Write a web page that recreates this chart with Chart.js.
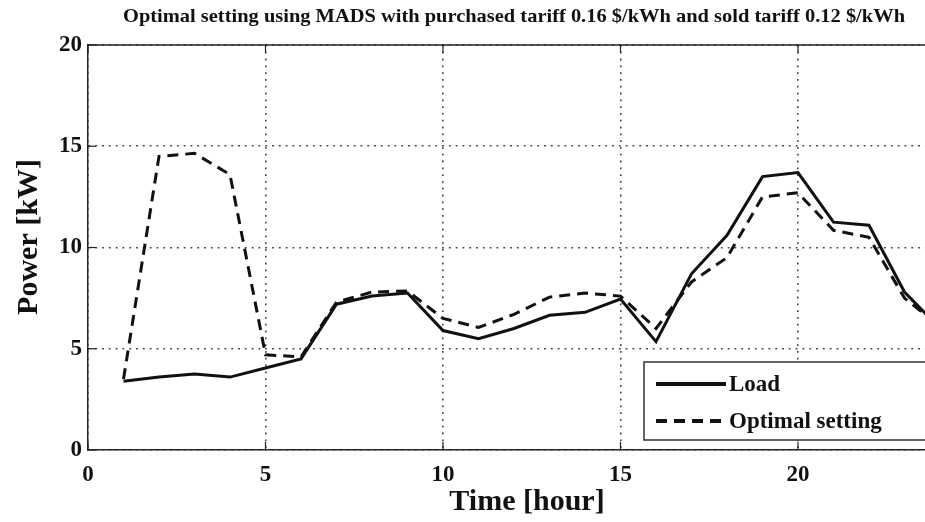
<!DOCTYPE html>
<html>
<head>
<meta charset="utf-8">
<script src="https://cdn.jsdelivr.net/npm/chart.js@4.4.1/dist/chart.umd.min.js"></script>
<style>
  html, body { margin: 0; padding: 0; background: #fff; overflow: hidden; }
  #wrap { width: 960px; height: 522px; position: relative; }
</style>
</head>
<body>
<div id="wrap"><canvas id="c"></canvas></div>
<script>
// Hourly profile, hours 1..24
const hours = [1,2,3,4,5,6,7,8,9,10,11,12,13,14,15,16,17,18,19,20,21,22,23,24];
const loadKW = [3.4,3.6,3.75,3.6,4.05,4.5,7.2,7.6,7.75,5.9,5.5,6.0,6.65,6.8,7.45,5.35,8.7,10.6,13.5,13.7,11.25,11.1,7.8,6.0];
const optimalKW = [3.5,14.5,14.65,13.6,4.7,4.6,7.3,7.8,7.85,6.5,6.05,6.7,7.55,7.75,7.6,6.0,8.3,9.5,12.5,12.7,10.85,10.5,7.5,6.1];
const xTicks = [0,5,10,15,20];
const yTicks = [0,5,10,15,20];

const titleText = 'Optimal setting using MADS with purchased tariff 0.16 $/kWh and sold tariff 0.12 $/kWh';
const xTitle = 'Time [hour]';
const yTitle = 'Power [kW]';
const serif = '"Liberation Serif", "Times New Roman", serif';

const toPoints = (vals) => hours.map((h, i) => ({ x: h, y: vals[i] }));

// Title, axis titles, top frame line, inward ticks and the legend box
const decor = {
  id: 'decor',
  afterDraw(chart) {
    const ctx = chart.ctx;
    const a = chart.chartArea;
    const xs = chart.scales.x, ys = chart.scales.y;

    // chart title, set in a condensed bold face
    ctx.save();
    ctx.fillStyle = '#111';
    ctx.font = 'bold 19px ' + serif;
    ctx.textAlign = 'center';
    ctx.textBaseline = 'middle';
    const w = ctx.measureText(titleText).width;
    ctx.translate(514, 17);
    ctx.scale(782 / w, 1);
    ctx.fillText(titleText, 0, 0);
    ctx.restore();

    // axis titles
    ctx.save();
    ctx.fillStyle = '#111';
    ctx.font = 'bold 30px ' + serif;
    ctx.textAlign = 'center';
    ctx.textBaseline = 'middle';
    ctx.fillText(xTitle, 527, 502);
    ctx.translate(29, 237);
    ctx.rotate(-Math.PI / 2);
    ctx.fillText(yTitle, 0, 0);
    ctx.restore();

    ctx.save();
    // top frame
    ctx.strokeStyle = '#222';
    ctx.lineWidth = 1.5;
    ctx.beginPath();
    ctx.moveTo(a.left, a.top);
    ctx.lineTo(a.right, a.top);
    ctx.stroke();
    // inward ticks
    ctx.lineWidth = 1.2;
    xTicks.forEach(v => {
      const px = xs.getPixelForValue(v);
      ctx.beginPath();
      ctx.moveTo(px, a.bottom); ctx.lineTo(px, a.bottom - 8);
      ctx.moveTo(px, a.top); ctx.lineTo(px, a.top + 8);
      ctx.stroke();
    });
    yTicks.forEach(v => {
      const py = ys.getPixelForValue(v);
      ctx.beginPath();
      ctx.moveTo(a.left, py); ctx.lineTo(a.left + 8, py);
      ctx.stroke();
    });

    // legend
    const bx = 644, by = 362, bw = 300, bh = 78;
    ctx.fillStyle = '#fff';
    ctx.fillRect(bx, by, bw, bh);
    ctx.strokeStyle = '#333';
    ctx.lineWidth = 1.5;
    ctx.strokeRect(bx, by, bw, bh);
    const rows = [{ ds: chart.data.datasets[0], y: 384 }, { ds: chart.data.datasets[1], y: 421 }];
    rows.forEach(r => {
      ctx.strokeStyle = r.ds.borderColor;
      ctx.lineWidth = r.ds.borderWidth + 1;
      ctx.setLineDash(r.ds.borderDash || []);
      ctx.beginPath();
      ctx.moveTo(656, r.y); ctx.lineTo(726, r.y);
      ctx.stroke();
      ctx.setLineDash([]);
      ctx.fillStyle = '#111';
      ctx.font = 'bold 23px ' + serif;
      ctx.textAlign = 'left';
      ctx.textBaseline = 'middle';
      ctx.fillText(r.ds.label, 729, r.y + 1);
    });
    ctx.restore();
  }
};

new Chart(document.getElementById('c'), {
  type: 'line',
  data: {
    datasets: [
      { label: 'Load', data: toPoints(loadKW), borderColor: '#111', borderWidth: 3, pointRadius: 0, tension: 0, fill: false },
      { label: 'Optimal setting', data: toPoints(optimalKW), borderColor: '#111', borderWidth: 3, borderDash: [11, 7], pointRadius: 0, tension: 0, fill: false }
    ]
  },
  options: {
    responsive: true,
    maintainAspectRatio: false,
    animation: false,
    layout: { padding: { top: 45, right: 20, left: 0, bottom: 0 } },
    plugins: { legend: { display: false }, title: { display: false }, tooltip: { enabled: false } },
    scales: {
      x: {
        type: 'linear', min: 0, max: 24,
        afterBuildTicks: (s) => { s.ticks = xTicks.map(v => ({ value: v })); },
        afterFit: (s) => { s.height = 72; },
        grid: { color: '#444', lineWidth: 1.6, drawTicks: false },
        border: { display: true, color: '#222', width: 1.5, dash: [1.8, 5] },
        ticks: { color: '#111', font: { family: serif, size: 23, weight: 'bold' }, padding: 11, maxRotation: 0 },
        title: { display: false }
      },
      y: {
        min: 0, max: 20,
        afterBuildTicks: (s) => { s.ticks = yTicks.map(v => ({ value: v })); },
        afterFit: (s) => { s.width = 88; },
        grid: { color: '#444', lineWidth: 1.6, drawTicks: false },
        border: { display: true, color: '#222', width: 1.5, dash: [1.8, 5] },
        ticks: { color: '#111', font: { family: serif, size: 23, weight: 'bold' }, padding: 6 },
        title: { display: false }
      }
    }
  },
  plugins: [decor]
});
</script>
</body>
</html>
